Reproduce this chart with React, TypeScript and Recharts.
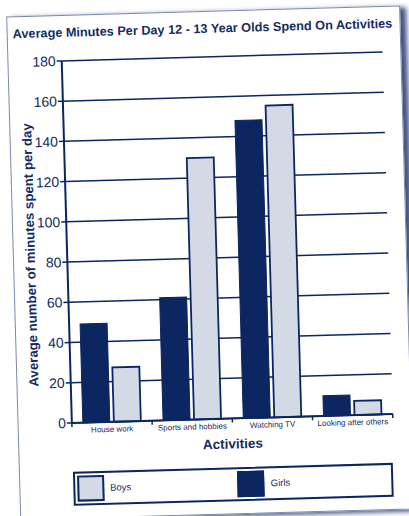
import { Bar, BarChart, CartesianGrid, XAxis, YAxis } from 'recharts';

const activities = ['House work', 'Sports and hobbies', 'Watching TV', 'Looking after others'];
const girlsMinutes = [49, 61, 148, 10];
const boysMinutes = [27, 130, 155, 7];
const minuteTicks = [0, 20, 40, 60, 80, 100, 120, 140, 160, 180];

const data = activities.map((activity, i) => ({ activity, girls: girlsMinutes[i], boys: boysMinutes[i] }));

const NAVY = '#0b2660';
const LIGHT = '#d3d9e5';
const INK = '#152d62';
const FONT = 'Arial, "Liberation Sans", Helvetica, sans-serif';

// plot box before the page tilt
const PLOT_TOP = 57;
const PLOT_BOTTOM = 419.2;

function ActivityTick(props: any) {
  const { x, y, payload, index, visibleTicksCount } = props;
  const half = payload?.offset ?? 40;
  const top = y - 4;
  return (
    <g>
      <line x1={x - half} x2={x - half} y1={top} y2={top + 4} stroke={NAVY} strokeWidth={1.5} />
      {index === visibleTicksCount - 1 && (
        <line x1={x + half} x2={x + half} y1={top} y2={top + 4} stroke={NAVY} strokeWidth={1.5} />
      )}
      <text x={x} y={y + 6} textAnchor="middle" fontSize={8} fill={INK} fontFamily={FONT}>
        {payload.value}
      </text>
    </g>
  );
}

function YTitle() {
  const cx = 30.5;
  const cy = (PLOT_TOP + PLOT_BOTTOM) / 2 + 12;
  return (
    <text
      x={cx}
      y={cy}
      transform={`rotate(-90, ${cx}, ${cy})`}
      textAnchor="middle"
      dominantBaseline="central"
      fontSize={13.2}
      fontWeight="bold"
      fill={INK}
      fontFamily={FONT}
    >
      Average number of minutes spent per day
    </text>
  );
}

function XTitle({ viewBox }: any) {
  const cx = (viewBox?.x ?? 67) + (viewBox?.width ?? 321) / 2;
  const cy = PLOT_BOTTOM + 25.5;
  return (
    <text x={cx} y={cy} textAnchor="middle" dominantBaseline="central" fontSize={13.5} fontWeight="bold" fill={INK} fontFamily={FONT}>
      Activities
    </text>
  );
}

function LegendBox() {
  const item = (left: number, fill: string, text: string, textLeft: number) => (
    <>
      <div
        style={{
          position: 'absolute',
          left,
          top: 2,
          width: 27,
          height: 26,
          boxSizing: 'border-box',
          background: fill,
          border: `2px solid ${NAVY}`,
        }}
      />
      <div style={{ position: 'absolute', left: textLeft, top: 9, fontSize: 9.5, lineHeight: '12px', color: INK }}>{text}</div>
    </>
  );
  return (
    <div
      style={{
        position: 'absolute',
        left: 67.4,
        top: 468,
        width: 320,
        height: 34,
        boxSizing: 'border-box',
        border: `2px solid ${NAVY}`,
        background: '#fff',
      }}
    >
      {item(2, LIGHT, 'Boys', 34.3)}
      {item(162, NAVY, 'Girls', 195)}
    </div>
  );
}

export default function App() {
  return (
    <div style={{ position: 'absolute', left: 0, top: 0, width: 409, height: 516, overflow: 'hidden', background: '#fff' }}>
      <div
        style={{
          position: 'absolute',
          left: 0,
          top: 0,
          width: 409,
          height: 516,
          transform: 'rotate(-1.6deg)',
          transformOrigin: '204.5px 258px',
          fontFamily: FONT,
        }}
      >
        <div
          style={{
            position: 'absolute',
            left: 12.5,
            top: 11.25,
            width: 392,
            height: 502,
            border: '1px solid #7b88ae',
            boxShadow: '6px 2px 5px rgba(45,65,115,0.9)',
            background: '#fff',
          }}
        />
        <div
          style={{
            position: 'absolute',
            left: 8.9,
            top: 21,
            width: 400,
            textAlign: 'center',
            fontSize: 12.7,
            lineHeight: '16px',
            fontWeight: 'bold',
            color: INK,
            whiteSpace: 'nowrap',
          }}
        >
          Average Minutes Per Day 12 - 13 Year Olds Spend On Activities
        </div>
        <div style={{ position: 'absolute', left: 0, top: 0 }}>
          <BarChart
            width={409}
            height={516}
            data={data}
            margin={{ top: PLOT_TOP, right: 20.7, bottom: 516 - PLOT_BOTTOM - 30, left: 12.3 }}
            barCategoryGap={11}
            barGap={4}
          >
            <CartesianGrid vertical={false} stroke={NAVY} strokeWidth={1.5} />
            <XAxis
              dataKey="activity"
              height={30}
              tickSize={4}
              tickMargin={0}
              tickLine={false}
              axisLine={{ stroke: NAVY, strokeWidth: 2 }}
              tick={<ActivityTick />}
              interval={0}
              label={{ content: <XTitle /> }}
            />
            <YAxis
              width={55}
              domain={[0, 180]}
              ticks={minuteTicks}
              interval={0}
              tickSize={5}
              tickMargin={1}
              tickLine={{ stroke: NAVY, strokeWidth: 1.5 }}
              axisLine={{ stroke: NAVY, strokeWidth: 2 }}
              tick={{ fontSize: 14, fill: INK, fontFamily: FONT }}
              label={{ content: <YTitle /> }}
            />
            <YAxis
              yAxisId="frame"
              orientation="right"
              width={0}
              domain={[0, 180]}
              tick={false}
              tickLine={false}
              axisLine={{ stroke: NAVY, strokeWidth: 1.5 }}
            />
            <Bar dataKey="girls" fill={NAVY} stroke={NAVY} strokeWidth={1} isAnimationActive={false} />
            <Bar dataKey="boys" fill={LIGHT} stroke={NAVY} strokeWidth={1.8} isAnimationActive={false} />
          </BarChart>
        </div>
        <LegendBox />
      </div>
    </div>
  );
}
